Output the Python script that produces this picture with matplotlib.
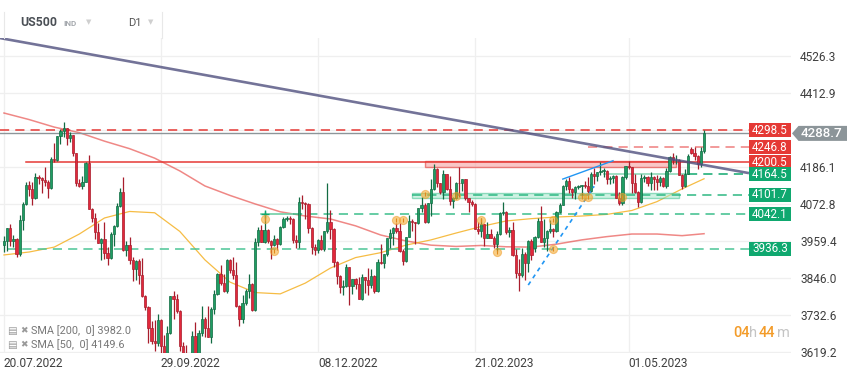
import numpy as np
import pandas as pd
import matplotlib
matplotlib.use("Agg")
import matplotlib.pyplot as plt
import matplotlib.transforms as mtransforms
from matplotlib.patches import Rectangle, Polygon

plt.rcParams['font.family'] = ['Roboto', 'DejaVu Sans']

# ─────────────────────────────────────────────
# Data: US500 daily candles 20.07.2022 – 02.06.2023
# ─────────────────────────────────────────────
# CFD prints on some US holidays, these four days have no candle
no_session = ["2022-09-05", "2022-12-26", "2023-01-02", "2023-01-16"]
dates = pd.bdate_range("2022-07-20", "2023-06-02").drop(pd.to_datetime(no_session))

opens = [
    3948, 3959, 3998, 3961, 3966, 3921, 4023, 4072,
    4130, 4118, 4091, 4155, 4152, 4145, 4140, 4122, 4210, 4207, 4280, 4297, 4305, 4275, 4284, 4228, 4138, 4128, 4141, 4199, 4058, 4031, 3986,
    3955, 3966, 3924, 3908, 3980, 4006, 4067, 4110, 3932, 3946, 3901, 3873, 3900, 3856, 3790, 3758, 3693, 3655, 3648, 3719, 3640,
    3586, 3678, 3791, 3783, 3745, 3640, 3612, 3589, 3577, 3669, 3583, 3677, 3720, 3695, 3666, 3752, 3797, 3859, 3831, 3807, 3901,
    3872, 3856, 3760, 3720, 3771, 3807, 3828, 3749, 3956, 3993, 3957, 3992, 3959, 3947, 3965, 3950, 4003, 4027, 4030, 4026, 3964, 3958,
    4080, 4076, 4072, 3999, 3941, 3933, 3964, 3934, 3991, 4019, 3996, 3896, 3852, 3818, 3821, 3879, 3822, 3845, 3829, 3783, 3849,
    3840, 3825, 3853, 3808, 3895, 3893, 3919, 3970, 3983, 3999, 3991, 3929, 3899, 3973, 4020, 4017, 4016, 4060, 4071, 4018,
    4077, 4119, 4180, 4136, 4111, 4164, 4118, 4082, 4090, 4137, 4136, 4148, 4090, 4079, 4072, 3997, 3991, 4012, 3970, 3982,
    3970, 3951, 3981, 4045, 4048, 3986, 3992, 3918, 3862, 3855, 3920, 3892, 3960, 3937, 3971, 4022, 3957, 3969, 3991, 3997, 3991, 4048, 4071,
    4129, 4144, 4120, 4111, 4125, 4128, 4130, 4128, 4112, 4166, 4158, 4171, 4175, 4175, 4150, 4153, 4158, 4092, 4076, 4156,
    4189, 4185, 4137, 4108, 4078, 4153, 4155, 4136, 4155, 4148, 4141, 4153, 4127, 4175, 4215, 4206, 4207, 4160, 4129, 4165, 4240, 4230, 4220,
    4194, 4235,
]
highs = [
    3975, 4000, 4013, 3977, 3968, 4039, 4078, 4140,
    4144, 4140, 4167, 4161, 4155, 4187, 4145, 4215, 4258, 4280, 4301, 4325, 4305, 4293, 4284, 4228, 4149, 4157, 4200, 4222, 4062, 4044, 4015,
    3970, 4018, 3942, 3987, 4010, 4077, 4122, 4156, 3961, 3973, 3910, 3902, 3905, 3908, 3796, 3760, 3715, 3717, 3736, 3720, 3672,
    3699, 3791, 3807, 3797, 3750, 3652, 3641, 3608, 3685, 3712, 3689, 3762, 3728, 3762, 3757, 3810, 3862, 3887, 3859, 3905, 3905,
    3912, 3895, 3765, 3796, 3814, 3859, 3830, 3970, 4002, 4008, 4050, 3995, 3962, 3979, 3968, 4005, 4034, 4035, 4035, 4030, 3977, 4095,
    4101, 4080, 4075, 4001, 3951, 3966, 3977, 3991, 4136, 4053, 3999, 3898, 3855, 3839, 3889, 3880, 3845, 3846, 3849, 3858, 3850,
    3878, 3873, 3855, 3906, 3951, 3919, 3970, 3997, 4004, 4015, 4015, 3935, 3973, 4040, 4026, 4019, 4061, 4095, 4075, 4077,
    4148, 4195, 4182, 4138, 4176, 4165, 4157, 4094, 4139, 4187, 4149, 4150, 4092, 4085, 4075, 4017, 4029, 4013, 4018, 3997,
    3975, 3990, 4048, 4078, 4051, 4001, 4018, 3934, 3905, 3937, 3925, 3964, 3965, 3976, 4029, 4066, 4027, 3993, 4023, 3999, 4050, 4077, 4130,
    4148, 4154, 4122, 4128, 4132, 4132, 4144, 4154, 4170, 4184, 4171, 4200, 4182, 4178, 4158, 4162, 4160, 4110, 4159, 4190,
    4204, 4187, 4166, 4112, 4164, 4160, 4157, 4171, 4157, 4160, 4158, 4155, 4183, 4219, 4228, 4223, 4209, 4164, 4180, 4227, 4248, 4246, 4224,
    4246, 4300,
]
lows = [
    3925, 3930, 3944, 3942, 3911, 3915, 3993, 4070,
    4097, 4070, 4088, 4135, 4107, 4128, 4090, 4118, 4201, 4205, 4256, 4277, 4253, 4262, 4219, 4129, 4124, 4119, 4140, 4057, 4017, 3965, 3954,
    3903, 3906, 3886, 3906, 3944, 4004, 4065, 3928, 3915, 3888, 3838, 3839, 3828, 3789, 3750, 3648, 3644, 3623, 3640, 3610, 3585,
    3580, 3675, 3722, 3739, 3623, 3588, 3569, 3574, 3491, 3580, 3580, 3670, 3666, 3665, 3647, 3736, 3795, 3825, 3803, 3800, 3863,
    3845, 3759, 3699, 3710, 3763, 3786, 3747, 3745, 3944, 3957, 3953, 3955, 3906, 3944, 3933, 3948, 3998, 4022, 4013, 3955, 3937, 3938,
    4058, 4026, 3984, 3919, 3917, 3923, 3933, 3930, 3985, 3966, 3879, 3828, 3801, 3795, 3819, 3765, 3798, 3813, 3783, 3780, 3800,
    3794, 3815, 3802, 3805, 3890, 3877, 3915, 3937, 3947, 3984, 3926, 3885, 3895, 3971, 3990, 3950, 4013, 4048, 4015, 4015,
    4037, 4115, 4124, 4103, 4089, 4115, 4069, 4061, 4088, 4095, 4113, 4085, 4047, 4066, 3995, 3981, 3973, 3943, 3968, 3969,
    3939, 3928, 3978, 4040, 3980, 3971, 3913, 3847, 3808, 3850, 3839, 3864, 3901, 3925, 3968, 3956, 3940, 3929, 3985, 3971, 3988, 4045, 4070,
    4115, 4106, 4092, 4089, 4118, 4093, 4122, 4106, 4110, 4133, 4144, 4160, 4155, 4135, 4134, 4137, 4092, 4069, 4070, 4148,
    4181, 4106, 4105, 4065, 4075, 4140, 4127, 4115, 4116, 4116, 4127, 4126, 4122, 4170, 4194, 4194, 4160, 4118, 4124, 4164, 4226, 4206, 4180,
    4185, 4230,
]
closes = [
    3959, 3998, 3961, 3966, 3921, 4023, 4072, 4130,
    4118, 4091, 4155, 4152, 4145, 4140, 4122, 4210, 4207, 4280, 4297, 4305, 4275, 4284, 4228, 4138, 4128, 4141, 4199, 4058, 4031, 3986, 3955,
    3966, 3924, 3908, 3980, 4006, 4067, 4110, 3932, 3946, 3901, 3873, 3900, 3856, 3790, 3758, 3693, 3655, 3648, 3719, 3640, 3586,
    3678, 3791, 3783, 3745, 3640, 3612, 3589, 3577, 3669, 3583, 3677, 3720, 3695, 3666, 3752, 3797, 3859, 3831, 3807, 3901, 3872,
    3856, 3760, 3720, 3771, 3807, 3828, 3749, 3956, 3993, 3957, 3992, 3959, 3947, 3965, 3950, 4003, 4027, 4030, 4026, 3964, 3958, 4080,
    4076, 4072, 3999, 3941, 3933, 3964, 3934, 3991, 4019, 3996, 3896, 3852, 3818, 3821, 3879, 3822, 3845, 3829, 3783, 3849, 3840,
    3825, 3853, 3808, 3895, 3893, 3919, 3970, 3983, 3999, 3991, 3929, 3899, 3973, 4020, 4017, 4016, 4060, 4071, 4018, 4077,
    4119, 4180, 4136, 4111, 4164, 4118, 4082, 4090, 4137, 4136, 4148, 4090, 4079, 4072, 3997, 3991, 4012, 3970, 3982, 3970,
    3951, 3981, 4045, 4048, 3986, 3992, 3918, 3862, 3855, 3920, 3892, 3960, 3917, 3971, 4022, 3957, 3969, 3991, 3997, 3991, 4048, 4071, 4129,
    4144, 4120, 4111, 4125, 4128, 4130, 4128, 4112, 4166, 4158, 4171, 4175, 4175, 4150, 4153, 4158, 4092, 4076, 4156, 4189,
    4185, 4137, 4108, 4078, 4153, 4155, 4136, 4155, 4148, 4141, 4153, 4127, 4175, 4215, 4206, 4207, 4160, 4129, 4165, 4219, 4230, 4220, 4194,
    4235, 4288.7,
]

# Moving averages, read every 8th candle plus the last one
sma_dates = list(dates[::8]) + [dates[-1]]
sma200 = [4351, 4331, 4308, 4291, 4265, 4242, 4213, 4174, 4128, 4099, 4073, 4049, 4036, 4027, 4006,
          3978, 3960, 3947, 3943, 3946, 3942, 3941, 3950, 3963, 3973, 3981, 3981, 3976, 3982]
sma50 = [3917, 3926, 3941, 3981, 4030, 4050, 4046, 3989, 3902, 3834, 3802, 3798, 3831, 3877, 3909,
         3924, 3947, 3963, 3984, 4004, 4021, 4028, 4033, 4036, 4041, 4053, 4080, 4119, 4150]

# Horizontal levels drawn on the chart
res_top = 4298.5
res_mid = 4246.8
res_low = 4200.5
sup_1 = 4164.5
sup_2 = 4101.7
sup_3 = 4042.1
sup_4 = 3936.3

# Drawing tools (dates, prices)
trend_dates = ["2022-07-20", "2023-06-02"]
trend_prices = [4578, 4192]
blue_solid_dates = ["2023-03-31", "2023-04-24"]
blue_solid_prices = [4149, 4205]
blue_dash_dates = ["2023-03-16", "2023-04-14"]
blue_dash_prices = [3825, 4127]
red_zone_dates = ["2023-01-30", "2023-05-22"]
red_zone_prices = [4187, 4205]
green_zone_dates = ["2023-01-24", "2023-05-23"]
green_zone_prices = [4090, 4106]
pivot_dates = ["2022-11-15", "2022-11-18", "2023-01-17", "2023-01-19", "2023-01-30", "2023-02-13",
               "2023-02-23", "2023-03-02", "2023-03-28", "2023-03-28", "2023-04-10", "2023-04-12", "2023-04-27"]
pivot_prices = [4027, 3930, 4023, 4023, 4102, 4097, 4024, 3927, 3935, 4024, 4095, 4095, 4095]

x_tick_dates = ["2022-07-20", "2022-09-29", "2022-12-08", "2023-02-21", "2023-05-01"]
x_tick_labels = ["20.07.2022", "29.09.2022", "08.12.2022", "21.02.2023", "01.05.2023"]
y_ticks = [3619.2, 3732.6, 3846.0, 3959.4, 4072.8, 4186.1, 4299.5, 4412.9, 4526.3]
y_tick_labels = ["3619.2", "3732.6", "3846.0", "3959.4", "4072.8", "4186.1", "", "4412.9", "4526.3"]

GREEN = "#1f9d63"
GREEN_EDGE = "#126b43"
RED = "#e2283b"
RED_EDGE = "#a81d2c"
LVL_RED = "#e53935"
LVL_GREEN = "#0fa86f"


def pos(d):
    return dates.get_loc(pd.Timestamp(d))


# ─────────────────────────────────────────────
# Figure
# ─────────────────────────────────────────────
fig = plt.figure(figsize=(8.59, 3.78), dpi=100, facecolor="white")
ax = fig.add_axes([0.0, 1 - 353 / 378, 791 / 859, 315 / 378])
ax.set_facecolor("white")

x0, x1 = -1.27, 250.7
ax.set_xlim(x0, x1)
ax.set_ylim(3617.2, 4580.4)
x_box = x0 + 0.9469 * (x1 - x0)     # where the price tags start

# grid + ticks
ax.set_yticks(y_ticks)
ax.set_yticklabels(y_tick_labels)
ax.yaxis.tick_right()
ax.set_xticks([pos(d) for d in x_tick_dates])
ax.set_xticklabels(x_tick_labels, ha="left")
ax.tick_params(length=0, labelsize=8.6, colors="#3f3f3f")
ax.tick_params(axis="y", pad=6.5)
ax.tick_params(axis="x", pad=3)
ax.grid(True, color="#efefef", lw=0.9, zorder=0)
ax.set_axisbelow(True)
for spine in ax.spines.values():
    spine.set_visible(False)

# --- moving averages ---
sx = [pos(d) for d in sma_dates]
ax.plot(sx, sma200, color="#e53935", lw=1.1, alpha=0.6, zorder=1)
ax.plot(sx, sma50, color="#f5b530", lw=0.9, alpha=0.9, zorder=1)

# --- zones ---
rz0, rz1 = pos(red_zone_dates[0]), pos(red_zone_dates[1])
ax.add_patch(Rectangle((rz0, red_zone_prices[0]), rz1 - rz0, red_zone_prices[1] - red_zone_prices[0],
                       facecolor="#f5a3a3", alpha=0.6, edgecolor="#e53935", lw=1.0, zorder=2))
gz0, gz1 = pos(green_zone_dates[0]), pos(green_zone_dates[1])
ax.add_patch(Rectangle((gz0, green_zone_prices[0]), gz1 - gz0, green_zone_prices[1] - green_zone_prices[0],
                       facecolor="#a8e8cc", alpha=0.55, edgecolor="#40c28f", lw=1.0, zorder=2))

# --- horizontal levels ---
ax.plot([x0, x_box], [res_top, res_top], color=LVL_RED, lw=1.1, ls=(0, (6, 4)), zorder=2)
ax.plot([pos("2023-04-12"), x_box], [res_mid, res_mid], color="#ef7f7f", lw=1.1, ls=(0, (6, 4)), zorder=2)
ax.plot([pos("2022-07-29"), x_box], [res_low, res_low], color=LVL_RED, lw=1.1, zorder=2)
ax.plot([pos("2023-04-19"), pos("2023-05-26")], [sup_1, sup_1], color="#8fd9b9", lw=1.2, zorder=2)
ax.plot([pos("2023-05-26"), x_box], [sup_1, sup_1], color=LVL_GREEN, lw=1.1, ls=(0, (6, 4)), zorder=2)
ax.plot([pos("2023-01-24"), x_box], [sup_2, sup_2], color="#2db883", lw=1.1, ls=(0, (6, 4)), zorder=2)
ax.plot([pos("2022-11-14"), pos("2022-11-28")], [sup_3, sup_3], color="#6fcfa6", lw=1.2, zorder=2)
ax.plot([pos("2022-11-28"), x_box], [sup_3, sup_3], color="#3cbf8b", lw=1.1, ls=(0, (6, 4)), zorder=2)
ax.plot([pos("2022-07-21"), x_box], [sup_4, sup_4], color="#4cc596", lw=1.1, ls=(0, (6, 4)), zorder=2)
ax.plot(pos("2022-11-15"), sup_3, marker="+", ms=6, color=LVL_GREEN, mew=1.0, zorder=5)

# current price line
last = closes[-1]
ax.axhline(last, color="#8c9599", lw=1.0, zorder=2)

# --- candles ---
xs = np.arange(len(dates))
o = np.array(opens, dtype=float)
h = np.array(highs, dtype=float)
l = np.array(lows, dtype=float)
c = np.array(closes, dtype=float)
up = c >= o
body_col = np.where(up, GREEN, RED)
edge_col = np.where(up, GREEN_EDGE, RED_EDGE)
ax.vlines(xs, l, h, colors=edge_col, lw=0.9, zorder=3)
ax.bar(xs, np.maximum(np.abs(c - o), 2.0), bottom=np.minimum(o, c), width=0.72,
       color=body_col, edgecolor=edge_col, linewidth=0.5, zorder=4)

# --- trend lines ---
tx = [pos(d) for d in trend_dates]
slope = (trend_prices[1] - trend_prices[0]) / (tx[1] - tx[0])
ax.plot([x0, x_box], [trend_prices[0] + slope * (x0 - tx[0]), trend_prices[0] + slope * (x_box - tx[0])],
        color="#50507f", lw=1.9, alpha=0.8, solid_capstyle="butt", zorder=5)
ax.plot([pos(d) for d in blue_solid_dates], blue_solid_prices, color="#2196f3", lw=1.0, zorder=5)
ax.plot([pos(d) for d in blue_dash_dates], blue_dash_prices, color="#2196f3", lw=1.2,
        ls=(0, (2.5, 2.5)), zorder=5)

# pivot markers
px = [pos(d) for d in pivot_dates]
ax.scatter(px, pivot_prices, s=34, color="#f5a623", alpha=0.55, edgecolors="#f0a030", linewidths=0.8, zorder=6)
ax.scatter(px, pivot_prices, s=12, marker="|", color="#e08a1e", linewidths=0.8, zorder=6)

# --- price tags ---
tag_tr = mtransforms.blended_transform_factory(ax.transAxes, ax.transData)
tag_h = 14 * (4580.4 - 3617.2) / 315
for val, col in [(res_top, LVL_RED), (res_mid, LVL_RED), (res_low, LVL_RED), (sup_1, LVL_GREEN),
                 (sup_2, LVL_GREEN), (sup_3, LVL_GREEN), (sup_4, LVL_GREEN)]:
    ax.add_patch(Rectangle((0.9469, val - tag_h / 2), 0.0531, tag_h, transform=tag_tr,
                           facecolor=col, edgecolor="none", zorder=7, clip_on=False))
    ax.text(0.9735, val, f"{val:.1f}", transform=tag_tr, ha="center", va="center",
            color="white", fontsize=8.4, zorder=8)

# current price tag (arrow box outside the plot)
fig.canvas.draw()
ypix = ax.transData.transform((0, last))[1]
yf = ypix / fig.bbox.height
hh = 7.5 / 378
fig.add_artist(Polygon([(792 / 859, yf), (798.5 / 859, yf + hh), (847 / 859, yf + hh),
                        (847 / 859, yf - hh), (798.5 / 859, yf - hh)],
                       closed=True, transform=fig.transFigure, facecolor="#8c9599", edgecolor="none"))
fig.text(821 / 859, yf, f"{last:.1f}", ha="center", va="center", color="white",
         fontsize=9.6, fontweight="medium")

# ─────────────────────────────────────────────
# Header, legend, countdown
# ─────────────────────────────────────────────
fig.text(20 / 859, 1 - 23 / 378, "US500", fontsize=8.8, fontweight="bold", color="#4a4f55", va="center")
fig.text(63 / 859, 1 - 23 / 378, "IND", fontsize=5.8, fontweight="bold", color="#a4a8ad", va="center")
fig.text(86 / 859, 1 - 22 / 378, "▼", fontsize=5, color="#cfcfcf", va="center", family=["DejaVu Sans"])
fig.text(128 / 859, 1 - 23 / 378, "D1", fontsize=8, color="#555555", va="center")
fig.text(148 / 859, 1 - 22 / 378, "▼", fontsize=5, color="#cfcfcf", va="center", family=["DejaVu Sans"])
for xp in (4, 162):
    fig.add_artist(plt.Line2D([xp / 859, xp / 859], [1 - 38 / 378, 1 - 12 / 378],
                              color="#e8e8e8", lw=0.8, transform=fig.transFigure))

for yy, txt in [(331, "SMA [200,  0] 3982.0"), (345, "SMA [50,  0] 4149.6")]:
    fig.text(7 / 859, 1 - yy / 378, "▤", fontsize=7.5, color="#9a9a9a", va="center", family=["DejaVu Sans"])
    fig.text(20 / 859, 1 - yy / 378, "✖", fontsize=6.5, color="#9a9a9a", va="center", family=["DejaVu Sans"])
    fig.text(31 / 859, 1 - yy / 378, txt, fontsize=7.8, color="#777777", va="center")

fig.text(733 / 859, 1 - 333 / 378, "04", fontsize=10.5, color="#f39c2a", va="center", fontweight="medium")
fig.text(749 / 859, 1 - 333 / 378, "h", fontsize=10.5, color="#c4c4c4", va="center")
fig.text(759 / 859, 1 - 333 / 378, "44", fontsize=10.5, color="#f39c2a", va="center", fontweight="medium")
fig.text(777 / 859, 1 - 333 / 378, "m", fontsize=10.5, color="#c4c4c4", va="center")

plt.savefig("out.png", dpi=100, facecolor=fig.get_facecolor())
